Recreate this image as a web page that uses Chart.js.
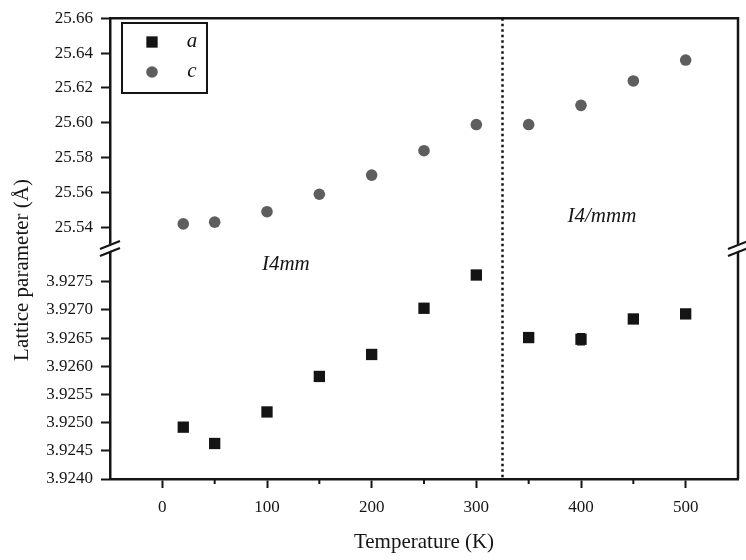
<!DOCTYPE html>
<html>
<head>
<meta charset="utf-8">
<script src="https://cdn.jsdelivr.net/npm/chart.js@4.4.1/dist/chart.umd.min.js"></script>
<style>
  html, body { margin: 0; padding: 0; background: #fff; }
  #wrap { width: 746px; height: 560px; }
</style>
</head>
<body>
<div id="wrap"><canvas id="latChart"></canvas></div>
<script>
// data
const temps = [20, 50, 100, 150, 200, 250, 300, 350, 400, 450, 500];
const aValues = [3.92492, 3.92463, 3.92519, 3.92582, 3.92621, 3.92703, 3.92762, 3.92651, 3.92648, 3.92684, 3.92693];
const aErrors = [0, 0, 0, 0, 0, 0, 0, 0, 0.0001, 0.00004, 0];
const cValues = [25.542, 25.543, 25.549, 25.559, 25.570, 25.584, 25.599, 25.599, 25.610, 25.624, 25.636];
const xTicks = [0, 100, 200, 300, 400, 500];
const xMinorTicks = [50, 150, 250, 350, 450];
const aTicks = [3.9240, 3.9245, 3.9250, 3.9255, 3.9260, 3.9265, 3.9270, 3.9275];
const cTicks = [25.54, 25.56, 25.58, 25.60, 25.62, 25.64, 25.66];
const transitionT = 325;
const phaseNames = ['I4mm', 'I4/mmm'];

const serif = '"Liberation Serif", "DejaVu Serif", serif';
const ink = '#151515';

function pts(ys) {
    return temps.map((t, i) => ({x: t, y: ys[i]}));
}

const extras = {
    id: 'extras',
    beforeDatasetsDraw(chart) {
        const ctx = chart.ctx;
        const area = chart.chartArea;
        const x = chart.scales.x;
        ctx.save();
        // top and right frame
        ctx.strokeStyle = ink;
        ctx.lineWidth = 2.5;
        ctx.beginPath();
        ctx.moveTo(area.left, area.top);
        ctx.lineTo(area.right, area.top);
        ctx.lineTo(area.right, area.bottom);
        ctx.stroke();
        // phase boundary
        const px = x.getPixelForValue(transitionT);
        ctx.setLineDash([2.5, 3]);
        ctx.lineWidth = 2.5;
        ctx.beginPath();
        ctx.moveTo(px, area.top);
        ctx.lineTo(px, area.bottom);
        ctx.stroke();
        ctx.setLineDash([]);
        // minor x ticks
        ctx.lineWidth = 2;
        xMinorTicks.forEach(v => {
            const p = x.getPixelForValue(v);
            ctx.beginPath();
            ctx.moveTo(p, area.bottom);
            ctx.lineTo(p, area.bottom + 5);
            ctx.stroke();
        });
        // error bars on a
        const ya = chart.scales.ya;
        ctx.lineWidth = 1.2;
        temps.forEach((t, i) => {
            if (!aErrors[i]) return;
            const p = x.getPixelForValue(t);
            const y1 = ya.getPixelForValue(aValues[i] - aErrors[i]);
            const y2 = ya.getPixelForValue(aValues[i] + aErrors[i]);
            ctx.beginPath();
            ctx.moveTo(p, y1); ctx.lineTo(p, y2);
            ctx.moveTo(p - 4, y1); ctx.lineTo(p + 4, y1);
            ctx.moveTo(p - 4, y2); ctx.lineTo(p + 4, y2);
            ctx.stroke();
        });
        // phase names
        ctx.fillStyle = ink;
        ctx.font = 'italic 21px ' + serif;
        ctx.textAlign = 'center';
        ctx.textBaseline = 'middle';
        ctx.fillText(phaseNames[0], x.getPixelForValue(118), ya.getPixelForValue(3.9278));
        ctx.fillText(phaseNames[1], x.getPixelForValue(420), chart.scales.yc.getPixelForValue(25.5462));
        ctx.restore();
    },
    afterDraw(chart) {
        const ctx = chart.ctx;
        const area = chart.chartArea;
        const yb = chart.scales.yc.bottom;
        ctx.save();
        // axis breaks on both spines
        [area.left, area.right].forEach(sx => {
            ctx.fillStyle = '#fff';
            ctx.beginPath();
            ctx.moveTo(sx - 8, yb + 5);
            ctx.lineTo(sx + 8, yb - 1);
            ctx.lineTo(sx + 8, yb - 8);
            ctx.lineTo(sx - 8, yb - 2);
            ctx.closePath();
            ctx.fill();
            ctx.strokeStyle = ink;
            ctx.lineWidth = 2.2;
            ctx.beginPath();
            ctx.moveTo(sx - 10, yb + 0);
            ctx.lineTo(sx + 10, yb - 8);
            ctx.moveTo(sx - 10, yb + 7);
            ctx.lineTo(sx + 10, yb - 1);
            ctx.stroke();
        });
        // y title
        ctx.fillStyle = ink;
        ctx.font = '21px ' + serif;
        ctx.textAlign = 'center';
        ctx.textBaseline = 'middle';
        ctx.translate(22, 270);
        ctx.rotate(-Math.PI / 2);
        ctx.fillText('Lattice parameter (\u00C5)', 0, 0);
        ctx.restore();
        // legend box
        ctx.save();
        ctx.strokeStyle = ink;
        ctx.lineWidth = 2;
        ctx.strokeRect(122, 23, 85, 70);
        ctx.font = 'italic 21px ' + serif;
        ctx.fillStyle = ink;
        ctx.textAlign = 'center';
        ctx.textBaseline = 'middle';
        chart.data.datasets.forEach((ds, i) => {
            const ly = 42 + i * 30;
            ctx.fillStyle = ds.backgroundColor;
            Chart.helpers.drawPoint(ctx, {pointStyle: ds.pointStyle, radius: ds.pointRadius, borderWidth: 0}, 152, ly);
            ctx.fillStyle = ink;
            ctx.fillText(ds.label, 192, ly - 1);
        });
        ctx.restore();
    }
};

const yCommon = {
    type: 'linear',
    position: 'left',
    stack: 'lat',
    afterFit: s => { s.width = 110; },
    grid: { display: true, drawOnChartArea: false, tickLength: 9, tickWidth: 2, tickColor: ink },
    border: { display: true, width: 2.5, color: ink }
};

new Chart(document.getElementById('latChart').getContext('2d'), {
    type: 'scatter',
    data: {
        datasets: [{
            label: 'a',
            data: pts(aValues),
            yAxisID: 'ya',
            pointStyle: 'rect',
            pointRadius: 8,
            backgroundColor: '#141414',
            borderColor: '#141414',
            borderWidth: 0
        }, {
            label: 'c',
            data: pts(cValues),
            yAxisID: 'yc',
            pointStyle: 'circle',
            pointRadius: 5.8,
            backgroundColor: '#5e5e5e',
            borderColor: '#5e5e5e',
            borderWidth: 0
        }]
    },
    options: {
        responsive: true,
        maintainAspectRatio: false,
        animation: false,
        layout: { padding: { top: 12, right: -2, left: 0, bottom: 0 } },
        plugins: { legend: { display: false }, tooltip: { enabled: false } },
        scales: {
            x: {
                type: 'linear',
                min: -50,
                max: 550,
                afterBuildTicks: s => { s.ticks = xTicks.map(v => ({value: v})); },
                afterFit: s => { s.height = 81; s.paddingLeft = 0; s.paddingRight = 0; },
                ticks: { font: { family: serif, size: 17 }, color: ink, padding: 9 },
                grid: { display: true, drawOnChartArea: false, tickLength: 9, tickWidth: 2, tickColor: ink },
                border: { display: true, width: 2.5, color: ink },
                title: { display: true, text: 'Temperature (K)', font: { family: serif, size: 21 }, color: ink, padding: { top: 4, bottom: 5 } }
            },
            ya: Object.assign({}, yCommon, {
                stackWeight: 233,
                min: 3.9240,
                max: 3.92808,
                afterBuildTicks: s => { s.ticks = aTicks.map(v => ({value: v})); },
                ticks: { autoSkip: false, font: { family: serif, size: 17 }, color: ink, padding: 8, callback: v => v.toFixed(4) }
            }),
            yc: Object.assign({}, yCommon, {
                stackWeight: 234,
                min: 25.52755,
                max: 25.66,
                afterBuildTicks: s => { s.ticks = cTicks.map(v => ({value: v})); },
                ticks: { autoSkip: false, font: { family: serif, size: 17 }, color: ink, padding: 8, callback: v => v.toFixed(2) }
            })
        }
    },
    plugins: [extras]
});
</script>
</body>
</html>
